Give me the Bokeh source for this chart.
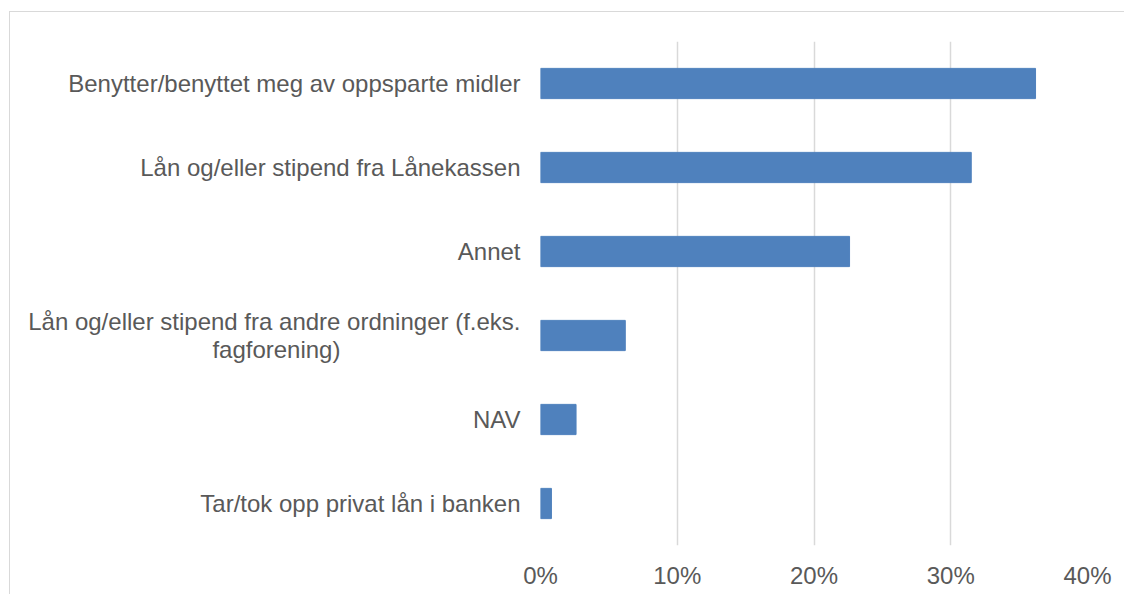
from bokeh.plotting import figure
from bokeh.models import ColumnDataSource, NumeralTickFormatter, FixedTicker, Range1d
from bokeh.embed import file_html
from bokeh.resources import INLINE

NBSP = "\u00a0"
categories = [
    "Benytter/benyttet meg av oppsparte midler",
    "Lån og/eller stipend fra Lånekassen",
    "Annet",
    # second line padded with non-breaking spaces so it sits centred under the first
    "Lån og/eller stipend fra andre ordninger (f.eks.\nfagforening)" + NBSP * 27,
    "NAV",
    "Tar/tok opp privat lån i banken",
]
shares = [0.362, 0.315, 0.226, 0.062, 0.026, 0.008]
x_ticks = [0.0, 0.1, 0.2, 0.3, 0.4]

FONT = "Liberation Sans"
TXT = "#595959"
GRID = "#d9d9d9"

src = ColumnDataSource(dict(cat=categories, val=shares))
y_factors = list(reversed(categories))

p = figure(
    width=1115, height=583,
    y_range=y_factors,
    x_range=Range1d(0, 0.4),
    output_backend="svg", toolbar_location=None,
    min_border_left=530, min_border_right=38,
    min_border_top=29, min_border_bottom=50,
)
p.hbar(y="cat", right="val", height=0.36, left=0, source=src,
       fill_color="#4F81BD", line_color="#4F81BD")

p.outline_line_color = None
p.ygrid.grid_line_color = None
p.xgrid.grid_line_color = GRID
p.xgrid.grid_line_width = 1.5
p.xaxis.ticker = FixedTicker(ticks=x_ticks)
p.xaxis.formatter = NumeralTickFormatter(format="0%")
for ax in (p.xaxis, p.yaxis):
    ax.axis_line_color = None
    ax.major_tick_line_color = None
    ax.minor_tick_line_color = None
    ax.major_tick_out = 0
    ax.major_label_text_font = FONT
    ax.major_label_text_font_size = "24px"
    ax.major_label_text_color = TXT
p.yaxis.major_label_text_line_height = 1.05
p.xaxis.major_label_standoff = 16
p.yaxis.major_label_standoff = 20

p.styles = {"border-top": "1px solid #d9d9d9", "border-left": "1px solid #d9d9d9",
            "margin-top": "11px", "margin-left": "9px"}

open("out.html", "w").write(file_html(p, INLINE))
